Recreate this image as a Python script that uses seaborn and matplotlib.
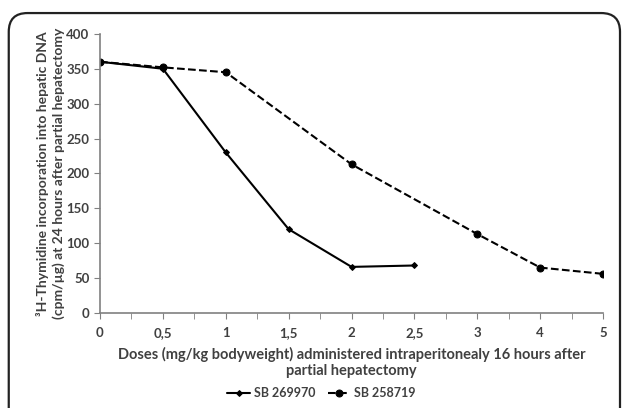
import numpy as np
import pandas as pd
import matplotlib
matplotlib.use("Agg")
import matplotlib.pyplot as plt
import seaborn as sns
from matplotlib.patches import FancyBboxPatch

# dosi (asse categorico, come in Excel)
dosi = ["0", "0,5", "1", "1,5", "2", "2,5", "3", "4", "5"]
sb269970 = [360, 350, 230, 120, 66, 68, None, None, None]
sb258719 = [360, 352, 345, None, 213, None, 113, 65, 56]

sns.set_style("white")
plt.rcParams["font.family"] = ["Lato", "DejaVu Sans"]
plt.rcParams["font.weight"] = "bold"

fig = plt.figure(figsize=(6.25, 4.08), dpi=100)
ax = fig.add_axes([0.16, 0.233, 0.805, 0.684])

# bordo arrotondato attorno alla figura
box = FancyBboxPatch((0.014, -0.05), 0.978, 1.018, boxstyle="round,pad=0,rounding_size=0.03",
                     transform=fig.transFigure, fill=False, edgecolor="#222222", linewidth=1.6,
                     clip_on=False, mutation_aspect=625 / 408)
fig.patches.append(box)

pos = np.arange(len(dosi))
df1 = pd.DataFrame({"x": pos, "y": sb269970}).dropna()
df2 = pd.DataFrame({"x": pos, "y": sb258719}).dropna()

sns.lineplot(data=df1, x="x", y="y", ax=ax, color="black", linewidth=1.5,
             marker="D", markersize=3, markeredgecolor="black", label="SB 269970")
sns.lineplot(data=df2, x="x", y="y", ax=ax, color="black", linewidth=1.5, linestyle="--",
             dashes=(5, 4), marker="o", markersize=5, markeredgecolor="black", label="SB 258719")

ax.set_xlim(0, len(dosi) - 1)
ax.set_ylim(0, 400)
ax.set_xticks(pos)
ax.set_xticklabels(dosi)
ax.set_xticks(pos[:-1] + 0.5, minor=True)
ax.set_yticks(np.arange(0, 401, 50))

for s in ["top", "right"]:
    ax.spines[s].set_visible(False)
for s in ["left", "bottom"]:
    ax.spines[s].set_color("#808080")
    ax.spines[s].set_linewidth(1.2)

ax.tick_params(axis="both", which="major", direction="out", length=4, color="#808080",
               labelsize=9.5, labelcolor="#404040", bottom=True, left=True)
ax.tick_params(axis="x", which="minor", direction="out", length=4, color="#808080", bottom=True)
ax.tick_params(axis="x", pad=6)

ax.set_xlabel("Doses (mg/kg bodyweight) administered intraperitonealy 16 hours after\npartial hepatectomy",
              fontsize=10.5, fontweight="bold", color="#404040", labelpad=6)
ax.set_ylabel("³H-Thymidine incorporation into hepatic DNA\n(cpm/µg) at 24 hours after partial hepatectomy",
              fontsize=10, fontweight="bold", color="#404040", linespacing=1.3)
ax.yaxis.set_label_coords(-0.07, 0.5)

ax.legend(loc="upper center", bbox_to_anchor=(0.44, -0.225), ncol=2, frameon=False,
          fontsize=9, handlelength=1.8, columnspacing=1.0, handletextpad=0.3,
          labelcolor="#404040")

fig.savefig("out.png", dpi=100)
